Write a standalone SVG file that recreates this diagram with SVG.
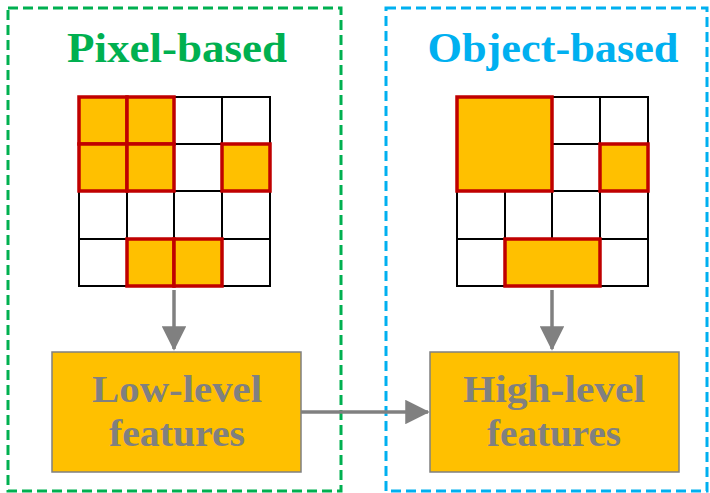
<svg xmlns="http://www.w3.org/2000/svg" width="710" height="493" viewBox="0 0 710 493">
<style>
.frame{fill:none;stroke-width:3;stroke-dasharray:10 5}
.grid{fill:none;stroke:#000;stroke-width:2}
.cell{fill:#FFC000;stroke:#C00000;stroke-width:3.5}
.box{fill:#FFC000;stroke:#808080;stroke-width:1.5}
.title{font-family:"Liberation Serif",serif;font-weight:bold;font-size:42px;text-anchor:middle}
.lbl{font-family:"Liberation Serif",serif;font-weight:bold;font-size:37px;fill:#808080;text-anchor:middle}
.conn{stroke:#808080;stroke-width:3.5;fill:none}
</style>
<defs>
<marker id="ah" markerWidth="7" markerHeight="7" refX="6.5" refY="3.5" orient="auto" markerUnits="strokeWidth">
<path d="M0,0 L7,3.5 L0,7 Z" fill="#808080"/>
</marker>
</defs>
<g id="pixel-panel">
<rect class="frame" x="8" y="8" width="333" height="483" stroke="#00B050"/>
<text class="title" x="177" y="62" fill="#00B050" textLength="220" lengthAdjust="spacingAndGlyphs">Pixel-based</text>
</g>
<g id="pixel-grid">
<rect class="grid" x="79" y="97" width="191" height="189"/>
<path class="grid" d="M127,97V286M174,97V286M222,97V286M79,144H270M79,191H270M79,239H270"/>
<rect class="cell" x="79" y="97" width="48" height="47"/>
<rect class="cell" x="127" y="97" width="47" height="47"/>
<rect class="cell" x="79" y="144" width="48" height="47"/>
<rect class="cell" x="127" y="144" width="47" height="47"/>
<rect class="cell" x="222" y="144" width="48" height="47"/>
<rect class="cell" x="127" y="239" width="47" height="47"/>
<rect class="cell" x="174" y="239" width="48" height="47"/>
</g>
<g id="object-panel">
<rect class="frame" x="386" y="8" width="321" height="483" stroke="#00B0F0"/>
<text class="title" x="553" y="62" fill="#00B0F0" textLength="251" lengthAdjust="spacingAndGlyphs">Object-based</text>
</g>
<g id="object-grid">
<rect class="grid" x="457" y="97" width="191" height="189"/>
<path class="grid" d="M600,97V286M552,144H648M505,191V286M552,191V239M457,239H648M457,191H648"/>
<rect class="cell" x="457" y="97" width="95" height="94"/>
<rect class="cell" x="600" y="144" width="48" height="47"/>
<rect class="cell" x="505" y="239" width="95" height="47"/>
</g>
<g id="low-level">
<rect class="box" x="52" y="352" width="249" height="120"/>
<text class="lbl" x="177" y="402" textLength="170" lengthAdjust="spacingAndGlyphs">Low-level</text>
<text class="lbl" x="177" y="446" textLength="136" lengthAdjust="spacingAndGlyphs">features</text>
</g>
<g id="high-level">
<rect class="box" x="430" y="352" width="249" height="120"/>
<text class="lbl" x="554" y="402" textLength="182" lengthAdjust="spacingAndGlyphs">High-level</text>
<text class="lbl" x="554" y="446" textLength="134" lengthAdjust="spacingAndGlyphs">features</text>
</g>
<g id="connectors">
<line class="conn" x1="174" y1="290" x2="174" y2="349" marker-end="url(#ah)"/>
<line class="conn" x1="552" y1="290" x2="552" y2="349" marker-end="url(#ah)"/>
<line class="conn" x1="301" y1="412" x2="428" y2="412" marker-end="url(#ah)"/>
</g>
</svg>
